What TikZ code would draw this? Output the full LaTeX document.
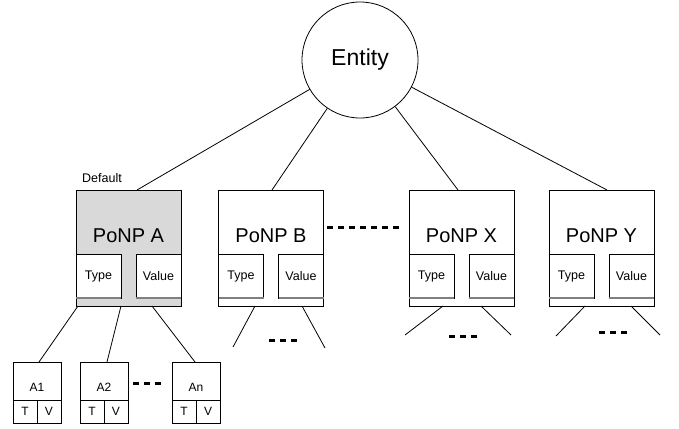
\documentclass[tikz,border=0pt]{standalone}
\usepackage{fontspec}
\setmainfont{Liberation Sans}
\definecolor{boxgray}{RGB}{217,217,217}
\definecolor{shadegray}{RGB}{128,128,128}
\begin{document}
\begin{tikzpicture}[x=1pt,y=-1pt,
  ln/.style={line width=0.8pt},
  entitynode/.style={circle,draw,line width=0.8pt,minimum size=116pt,inner sep=0pt,font=\fontsize{23}{26}\selectfont},
  bigbox/.style={draw,line width=0.8pt,minimum width=105pt,minimum height=116pt,inner sep=0pt,outer sep=0pt},
  biglabel/.style={inner sep=0pt,font=\fontsize{20}{22}\selectfont},
  subbox/.style={draw,fill=white,line width=0.8pt,minimum width=45pt,minimum height=44pt,inner sep=0pt,outer sep=0pt,font=\fontsize{12.5}{14}\selectfont},
  shadeline/.style={draw=shadegray,line width=2pt},
  leafbox/.style={draw,fill=white,line width=0.8pt,minimum width=48pt,minimum height=61pt,inner sep=0pt,outer sep=0pt},
  leaflabel/.style={inner sep=0pt,font=\fontsize{12}{14}\selectfont},
  cellbox/.style={draw,line width=0.8pt,minimum width=24pt,minimum height=23pt,inner sep=0pt,outer sep=0pt,font=\fontsize{12}{14}\selectfont},
  dotline/.style={line width=3pt,dash pattern=on 6pt off 5pt},
  smalltext/.style={inner sep=0pt,font=\fontsize{12.5}{14}\selectfont}
]
\useasboundingbox (0,0) rectangle (679,428);

\node[entitynode] (E) at (360,60) {Entity};

\foreach \n/\cx/\t/\f/\o in {A/128.5/A/boxgray/8.5, B/271/B/white/1, X/461.5/X/white/-3.5, Y/601.5/Y/white/5.5} {
  \node[bigbox,fill=\f] (\n) at (\cx,248) {};
  \node[biglabel] (\n lab) at (\cx,236) {PoNP \t};
  \node[subbox] (\n t) at (\cx-30,276) {Type};
  \node[subbox] (\n v) at (\cx+30,276) {Value};
  \draw[shadeline] (\n t.south west) -- (\n t.south east);
  \draw[shadeline] (\n v.south west) -- (\n v.south east);
  \draw[ln] (E) -- ([xshift=\o pt]\n.north);
}

\node[smalltext] (def) at (102,178) {Default};

\foreach \n/\cx in {A1/37, A2/104, An/196} {
  \node[leafbox] (\n) at (\cx,392.5) {};
  \node[leaflabel] (\n lab) at (\cx,387) {\n};
  \node[cellbox] (\n t) at (\cx-12,411.5) {T};
  \node[cellbox] (\n v) at (\cx+12,411.5) {V};
}

\draw[ln] ([xshift=-50.5pt]A.south) -- ([xshift=2pt]A1.north);
\draw[ln] ([xshift=-7.5pt]A.south) -- ([xshift=3pt]A2.north);
\draw[ln] ([xshift=23.5pt]A.south) -- ([xshift=-1pt]An.north);

\coordinate (Bl) at (233,347);
\coordinate (Br) at (325,348);
\coordinate (Xl) at (405,335);
\coordinate (Xr) at (511,335);
\coordinate (Yl) at (556,336);
\coordinate (Yr) at (660,335);
\draw[ln] ([xshift=-16pt]B.south) -- (Bl);
\draw[ln] ([xshift=31pt]B.south) -- (Br);
\draw[ln] ([xshift=-18.5pt]X.south) -- (Xl);
\draw[ln] ([xshift=19.5pt]X.south) -- (Xr);
\draw[ln] ([xshift=-16.5pt]Y.south) -- (Yl);
\draw[ln] ([xshift=29.5pt]Y.south) -- (Yr);

\draw[dotline] (327,227) -- (402,227);
\draw[dotline] (133,383) -- (164,383);
\draw[dotline] (269,340) -- (300,340);
\draw[dotline] (449,336) -- (480,336);
\draw[dotline] (599,332) -- (630,332);
\end{tikzpicture}
\end{document}
